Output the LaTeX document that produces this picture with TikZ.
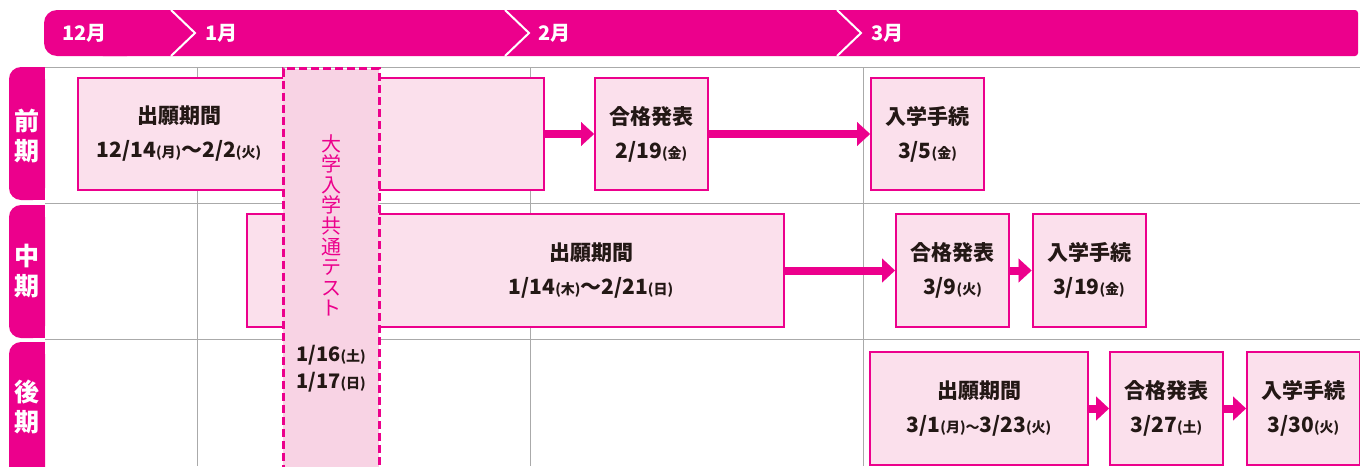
\documentclass[tikz,border=0pt]{standalone}
\usepackage{fontspec}
\newfontfamily\jp{Noto Sans CJK JP}
\usetikzlibrary{arrows.meta}
\definecolor{mag}{RGB}{236,0,140}
\definecolor{boxpink}{RGB}{251,224,236}
\definecolor{testpink}{RGB}{248,211,228}
\definecolor{ink}{RGB}{35,24,21}
\definecolor{rulegray}{RGB}{170,170,170}
\newcommand{\yobi}[1]{{\fontsize{14}{14}\selectfont(#1)}}
\newcommand{\nami}{{\fontsize{14}{14}\selectfont ～}}
\tikzset{
  ev/.style={draw=mag, line width=2pt, fill=boxpink, inner sep=0pt,
    minimum width=113pt, minimum height=112pt,
    text=ink, font=\jp\bfseries\fontsize{21}{34}\selectfont, align=center},
  evlabel/.style={text=ink, font=\jp\bfseries\fontsize{21}{34}\selectfont, align=center},
  flow/.style={mag, line width=8pt, -{Triangle[length=13pt,width=24pt,line width=0.1pt]}},
  month/.style={text=white, font=\jp\bfseries\fontsize{20}{20}\selectfont, anchor=west, inner sep=0pt},
  term/.style={text=white, font=\jp\bfseries\fontsize{25}{30}\selectfont, align=center},
  testcol/.style={draw=mag, line width=3pt, dash pattern=on 8pt off 4pt, fill=testpink,
    minimum width=96pt, minimum height=420pt, anchor=north},
}
\begin{document}
\begin{tikzpicture}[x=1pt, y=-1pt]
\useasboundingbox (0,0) rectangle (1360,466);
% month bar
\fill[mag, rounded corners=13pt] (44,10) rectangle (140,56);
\fill[mag, rounded corners=3pt] (100,10) rectangle (1358,56);
\foreach \x in {171,505,837}
  \draw[white, line width=2pt] (\x,10) -- (\x+24,33) -- (\x,56);
\node[month] (dec) at (62,33) {12月};
\node[month] (jan) at (205,33) {1月};
\node[month] (feb) at (538,33) {2月};
\node[month] (mar) at (871,33) {3月};
% grid
\foreach \y in {67,203,339}
  \draw[rulegray] (45,\y) -- (1360,\y);
\foreach \x in {197,530,863}
  \draw[rulegray] (\x,67) -- (\x,466);
% tabs
\foreach \ya/\yb in {67/200,205/338,342/480} {
  \fill[mag, rounded corners=12pt] (9,\ya) rectangle (45,\yb);
  \fill[mag] (30,\ya) rectangle (45,\yb);
}
\node[term] (zenki) at (27,136) {前\\期};
\node[term] (chuki) at (27,271.5) {中\\期};
\node[term] (koki) at (27,407) {後\\期};

% long boxes under the test column
\node[ev, minimum width=466pt] (zgan) at (311,134) {};
\node[evlabel] (zganlabel) at (179,134) {出願期間\\12/14\yobi{月}～2/2\yobi{火}};
\node[ev, minimum width=537pt, minimum height=113pt] (cgan) at (515.5,270.5) {};
\node[evlabel] (cganlabel) at (591,270.5) {出願期間\\1/14\yobi{木}～2/21\yobi{日}};

% test column
\node[testcol] (kyotsu) at (331,67) {};
\node[text=mag, font=\jp\fontsize{20}{20.6}\selectfont, align=center] (kyotsutitle) at (331,225.5)
  {大\\学\\入\\学\\共\\通\\テ\\ス\\ト};
\node[evlabel, font=\jp\bfseries\fontsize{20}{27}\selectfont] (kyotsudate) at (331,368.5)
  {1/16\yobi{土}\\1/17\yobi{日}};

% row 1
\node[ev] (zgoukaku) at (651.5,134) {合格発表\\2/19\yobi{金}};
\node[ev] (ztetsu) at (927.5,134) {入学手続\\3/5\yobi{金}};
\draw[flow] (zgan.east) -- (zgoukaku.west);
\draw[flow] (zgoukaku.east) -- (ztetsu.west);

% row 2
\node[ev, minimum height=113pt] (cgoukaku) at (952.5,270.5) {合格発表\\3/9\yobi{火}};
\node[ev, minimum height=113pt] (ctetsu) at (1089,270.5) {入学手続\\3/19\yobi{金}};
\draw[flow] (cgan.east) -- (cgoukaku.west);
\draw[flow] (cgoukaku.east) -- (ctetsu.west);

% row 3
\node[ev, minimum width=218pt, minimum height=113pt] (kgan) at (979,408.5) {出願期間\\3/1\yobi{月}\nami 3/23\yobi{火}};
\node[ev, minimum height=113pt] (kgoukaku) at (1166.5,408.5) {合格発表\\3/27\yobi{土}};
\node[ev, minimum height=113pt] (ktetsu) at (1303.5,408.5) {入学手続\\3/30\yobi{火}};
\draw[flow] (kgan.east) -- (kgoukaku.west);
\draw[flow] (kgoukaku.east) -- (ktetsu.west);
\end{tikzpicture}
\end{document}
